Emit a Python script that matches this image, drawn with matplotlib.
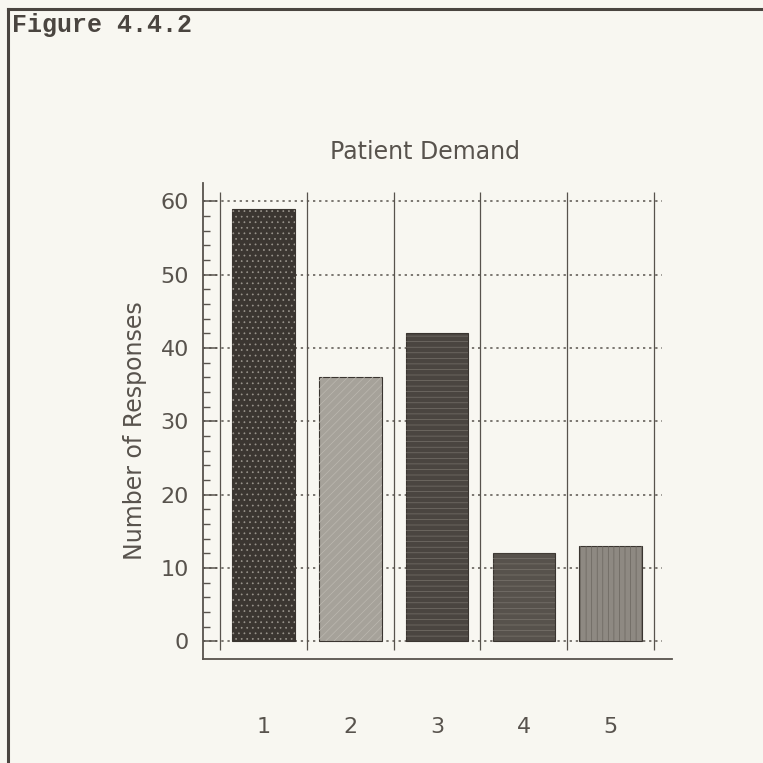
import matplotlib.pyplot as plt
from matplotlib.lines import Line2D

# data
categories = ["1", "2", "3", "4", "5"]
responses = [59, 36, 42, 12, 13]
y_ticks = [0, 10, 20, 30, 40, 50, 60]

bar_colors = ["#3b3631", "#a6a29a", "#4a4540", "#57524c", "#8e8982"]
hatch_colors = ["#9a958d", "#bcb8b0", "#77726b", "#7a756e", "#6a655e"]
hatches = ["...", "////", "---", "---", "|||"]

paper = "#f8f7f1"
ink = "#58534d"

plt.rcParams["hatch.linewidth"] = 0.5

fig = plt.figure(figsize=(7.63, 7.63), dpi=100, facecolor=paper)

# page frame (only top and left edges visible in the scan)
fig.add_artist(Line2D([8 / 763, 1.0], [1 - 9 / 763, 1 - 9 / 763],
                      transform=fig.transFigure, color="#4a4540", lw=2.2))
fig.add_artist(Line2D([8 / 763, 8 / 763], [0.0, 1 - 9 / 763],
                      transform=fig.transFigure, color="#4a4540", lw=2.2))

fig.text(12 / 763, 1 - 25 / 763, "Figure 4.4.2", family="Liberation Mono",
         fontsize=18, fontweight="bold", color="#4a4540", va="center", ha="left")

ax = fig.add_axes([203 / 763, 1 - 659 / 763, 469 / 763, 476 / 763])
ax.set_facecolor(paper)

x = list(range(1, len(categories) + 1))

# dotted horizontal grid and solid vertical separators
ax.hlines(y_ticks, 0.30, 5.60, colors=ink, linestyles=(0, (1.5, 2.5)), lw=1.1, zorder=1)
ax.vlines([i + 0.5 for i in range(0, len(categories) + 1)], -1.2, 61.3,
          colors=ink, lw=0.9, zorder=1)

ax.bar(x, responses, width=0.72, color=bar_colors, edgecolor="#3a3530",
       linewidth=0.8, zorder=2)
for xi, val, hc, h in zip(x, responses, hatch_colors, hatches):
    ax.bar(xi, val, width=0.72, fill=False, hatch=h, edgecolor=hc,
           linewidth=0, zorder=3)

ax.set_xlim(0.30, 5.71)
ax.set_ylim(-2.4, 62.5)

ax.spines["top"].set_visible(False)
ax.spines["right"].set_visible(False)
for s in ("left", "bottom"):
    ax.spines[s].set_color(ink)
    ax.spines[s].set_linewidth(1.3)

ax.set_yticks(y_ticks)
ax.set_yticks(range(0, 61, 2), minor=True)
ax.set_xticks(x)
ax.set_xticklabels(categories)
ax.tick_params(axis="y", which="major", direction="in", length=10, width=1.1,
               color=ink, labelsize=16, labelcolor=ink, pad=10)
ax.tick_params(axis="y", which="minor", direction="in", length=5, width=1.0,
               color=ink)
ax.tick_params(axis="x", which="both", length=0, labelsize=16,
               labelcolor=ink, pad=42)

for lab in ax.get_xticklabels() + ax.get_yticklabels():
    lab.set_family("DejaVu Sans")

ax.set_ylabel("Number of Responses", fontsize=17, color=ink,
              family="DejaVu Sans")
ax.yaxis.set_label_coords(-0.12, 0.48)

fig.text(425 / 763, 1 - 152 / 763, "Patient Demand", fontsize=17, color=ink,
         ha="center", va="center", family="DejaVu Sans")

fig.savefig("out.png", dpi=100, facecolor=paper)
